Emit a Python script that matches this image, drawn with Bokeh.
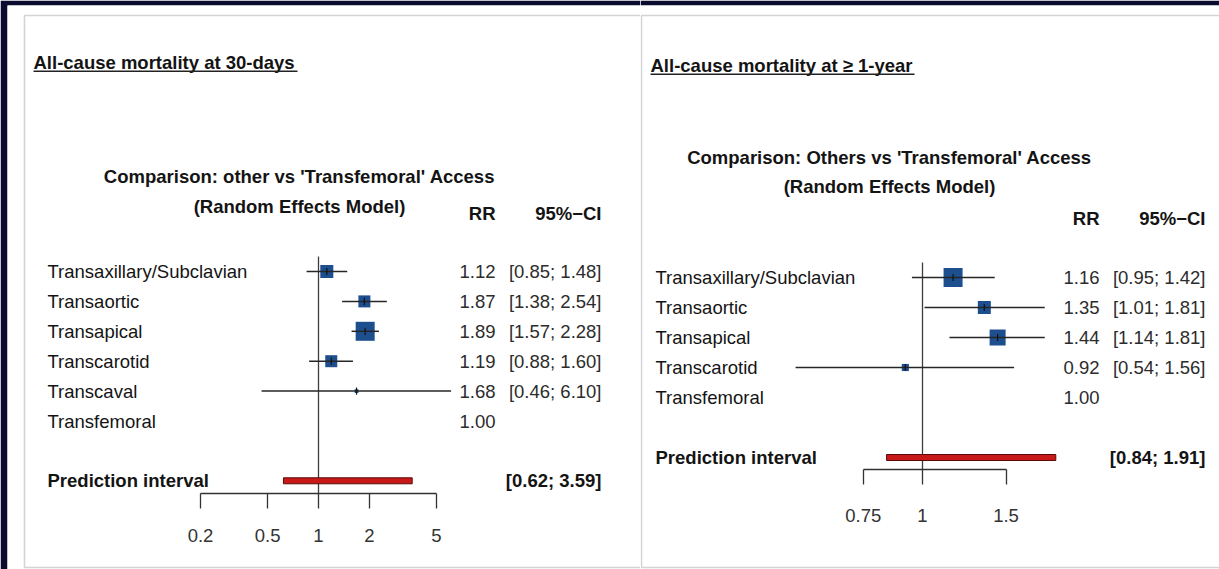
import math

from bokeh.embed import file_html
from bokeh.layouts import row
from bokeh.models import BoxAnnotation, FixedTicker, Label, LogAxis, Range1d
from bokeh.plotting import figure
from bokeh.resources import INLINE

# ---------------------------------------------------------------- data
# All-cause mortality at 30 days
labels_30d = ["Transaxillary/Subclavian", "Transaortic", "Transapical",
              "Transcarotid", "Transcaval", "Transfemoral"]
rr_30d = [1.12, 1.87, 1.89, 1.19, 1.68, 1.00]
lo_30d = [0.85, 1.38, 1.57, 0.88, 0.46, None]
hi_30d = [1.48, 2.54, 2.28, 1.60, 6.10, None]
weight_30d = [0.47, 0.40, 1.00, 0.40, 0.04, None]
pred_30d = [0.62, 3.59]
ticks_30d = [0.2, 0.5, 1, 2, 5]
tick_labels_30d = ["0.2", "0.5", "1", "2", "5"]

# All-cause mortality at >= 1 year
labels_1y = ["Transaxillary/Subclavian", "Transaortic", "Transapical",
             "Transcarotid", "Transfemoral"]
rr_1y = [1.16, 1.35, 1.44, 0.92, 1.00]
lo_1y = [0.95, 1.01, 1.14, 0.54, None]
hi_1y = [1.42, 1.81, 1.81, 1.56, None]
weight_1y = [1.00, 0.47, 0.71, 0.14, None]
pred_1y = [0.84, 1.91]
ticks_1y = [0.75, 1, 1.5]
tick_labels_1y = ["0.75", "1", "1.5"]

# ---------------------------------------------------------------- style
FONT = "Liberation Sans"
FS = "18.5px"
DARK = "#0a0b2e"
INK = "#141414"
SOFT_INK = "#2c2c2c"
BOX_BLUE = "#1d4f8f"
PI_RED = "#c81818"
RULE = "#6f6f6f"
HEIGHT = 569


def forest_panel(cfg, labels, rr, lo, hi, weight, pred, ticks, tick_labels):
    frame_left = cfg["frame_left"]
    width = cfg["width"]
    frame_w = width - cfg["min_left"]
    r0, step = cfg["row0"], cfg["step"]

    def row_at(py):
        return (py - r0) / step

    def fx(px):
        return px - frame_left

    dec, ref = cfg["px_per_decade"], cfg["ref_px"]
    x_range = Range1d(10 ** ((frame_left - ref) / dec),
                      10 ** ((frame_left + frame_w - ref) / dec))
    y_range = Range1d(row_at(HEIGHT), row_at(5))

    p = figure(width=width, height=HEIGHT, x_axis_type="log",
               x_range=x_range, y_range=y_range,
               x_axis_location=None, y_axis_location=None,
               toolbar_location=None, output_backend="svg",
               min_border_left=cfg["min_left"], min_border_right=0,
               min_border_top=5, min_border_bottom=0,
               background_fill_color="white", border_fill_color=DARK,
               outline_line_color=None)
    p.center = []

    # panel frame
    p.add_layout(BoxAnnotation(left=fx(cfg["box_left"]), right=fx(cfg["box_right"]),
                               left_units="screen", right_units="screen",
                               top=row_at(15), bottom=row_at(567),
                               fill_alpha=0, line_color=RULE, line_width=1.6))

    n = len(labels)
    ys = list(range(n))
    pred_row = n + 1
    axis_row = row_at(cfg["axis_y"])

    # reference line at RR = 1
    p.segment(x0=[1], x1=[1], y0=[-0.5], y1=[axis_row], line_color="#3c3c3c", line_width=1.3)

    est = [(y, r, l, h, w) for y, r, l, h, w in zip(ys, rr, lo, hi, weight) if l is not None]
    ey = [e[0] for e in est]
    er = [e[1] for e in est]
    el = [e[2] for e in est]
    eh = [e[3] for e in est]
    ew = [cfg["max_box"] * math.sqrt(e[4]) for e in est]

    p.scatter(x=er, y=ey, marker="square", size=ew, fill_color=BOX_BLUE, line_color=None)
    p.segment(x0=el, x1=eh, y0=ey, y1=ey, line_color="#262626", line_width=1.5)
    p.segment(x0=er, x1=er, y0=[y - 0.12 for y in ey], y1=[y + 0.12 for y in ey],
              line_color="#111111", line_width=1.2)

    # prediction interval
    p.hbar(y=[pred_row], left=[pred[0]], right=[pred[1]], height=0.2,
           fill_color=PI_RED, line_color="#5a0a0a", line_width=1)

    axis = LogAxis(fixed_location=axis_row,
                   ticker=FixedTicker(ticks=ticks, minor_ticks=[]),
                   major_label_overrides={t: s for t, s in zip(ticks, tick_labels)},
                   bounds=(ticks[0], ticks[-1]),
                   axis_line_color="#333333", axis_line_width=1.3,
                   major_tick_line_color="#333333", major_tick_line_width=1.3,
                   major_tick_in=0, major_tick_out=15,
                   minor_tick_in=0, minor_tick_out=0,
                   major_label_standoff=cfg["standoff"],
                   major_label_text_font=FONT, major_label_text_font_size=FS,
                   major_label_text_color="#333333")
    p.add_layout(axis, "below")

    def txt(x, py, s, align="left", bold=False, color=INK, y_is_row=False):
        p.add_layout(Label(x=fx(x), y=py if y_is_row else row_at(py),
                           x_units="screen", y_units="data", text=s,
                           text_font=FONT, text_font_size=FS,
                           text_font_style="bold" if bold else "normal",
                           text_align=align, text_baseline="middle", text_color=color))

    # headings
    txt(cfg["title_x"], cfg["title_y"], cfg["title"], bold=True)
    p.add_layout(BoxAnnotation(left=fx(cfg["title_x"]), right=fx(cfg["title_x"] + cfg["title_w"]),
                               left_units="screen", right_units="screen",
                               top=row_at(cfg["title_y"] + 8), bottom=row_at(cfg["title_y"] + 9.5),
                               fill_color="#222222", fill_alpha=1, line_color=None))
    txt(cfg["cmp_x"], cfg["cmp_y1"], cfg["comparison"], align="center", bold=True)
    txt(cfg["cmp_x"], cfg["cmp_y2"], "(Random Effects Model)", align="center", bold=True)
    txt(cfg["rr_right"], cfg["hdr_y"], "RR", align="right", bold=True)
    txt(cfg["ci_right"], cfg["hdr_y"], "95%\u2212CI", align="right", bold=True)

    # study rows
    for y, name, r, l, h in zip(ys, labels, rr, lo, hi):
        txt(cfg["label_x"], y, name, y_is_row=True)
        txt(cfg["rr_right"], y, f"{r:.2f}", align="right", color=SOFT_INK, y_is_row=True)
        if l is not None:
            txt(cfg["ci_right"], y, f"[{l:.2f}; {h:.2f}]", align="right", color=SOFT_INK, y_is_row=True)

    txt(cfg["label_x"], pred_row, "Prediction interval", bold=True, y_is_row=True)
    txt(cfg["ci_right"], pred_row, f"[{pred[0]:.2f}; {pred[1]:.2f}]", align="right", bold=True,
        y_is_row=True)
    return p


left_cfg = dict(width=640, min_left=7, frame_left=7, row0=271, step=29.9,
                px_per_decade=168.8, ref_px=318, axis_y=493, standoff=20, max_box=19,
                box_left=24, box_right=700,
                title="All-cause mortality at 30-days", title_x=33, title_y=62, title_w=264,
                comparison="Comparison: other vs 'Transfemoral' Access",
                cmp_x=299, cmp_y1=176, cmp_y2=206, hdr_y=213,
                label_x=47, rr_right=495, ci_right=601)

right_cfg = dict(width=579, min_left=0, frame_left=640, row0=277, step=30,
                 px_per_decade=474.3, ref_px=922, axis_y=469, standoff=24, max_box=19,
                 box_left=641, box_right=1260,
                 title="All-cause mortality at \u2265 1-year", title_x=650, title_y=65, title_w=264,
                 comparison="Comparison: Others vs 'Transfemoral' Access",
                 cmp_x=889, cmp_y1=157, cmp_y2=186, hdr_y=218,
                 label_x=655, rr_right=1099, ci_right=1205)

p_left = forest_panel(left_cfg, labels_30d, rr_30d, lo_30d, hi_30d, weight_30d,
                      pred_30d, ticks_30d, tick_labels_30d)
p_right = forest_panel(right_cfg, labels_1y, rr_1y, lo_1y, hi_1y, weight_1y,
                       pred_1y, ticks_1y, tick_labels_1y)

layout = row(p_left, p_right, spacing=0)
open("out.html", "w").write(file_html(layout, INLINE))
